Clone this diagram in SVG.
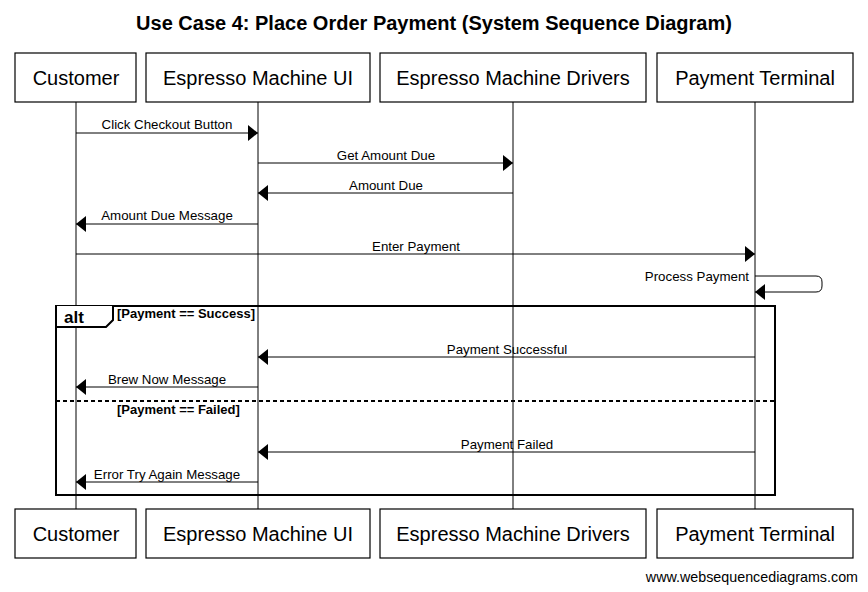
<svg xmlns="http://www.w3.org/2000/svg" width="868" height="592" viewBox="0 0 868 592">
<style>
.box{fill:#fff;stroke:#000;stroke-width:1.2}
.pt{font-family:"Liberation Sans",Arial,sans-serif;font-size:20px;text-anchor:middle;fill:#000}
.life{stroke:#000;stroke-width:1}
.msg{stroke:#000;stroke-width:1;fill:none}
.ml{font-family:"Liberation Sans",Arial,sans-serif;font-size:13.3px;text-anchor:middle;fill:#000}
.frame{fill:none;stroke:#000;stroke-width:2}
.guard{font-family:"Liberation Sans",Arial,sans-serif;font-size:13px;font-weight:bold;fill:#000}
</style>
<defs>
<marker id="ah" viewBox="0 0 10 16" refX="10" refY="8" markerWidth="10" markerHeight="16" markerUnits="userSpaceOnUse" orient="auto">
<path d="M0,0 L10,8 L0,16 Z" fill="#000"/>
</marker>
</defs>
<rect width="868" height="592" fill="#fff"/>
<text x="434" y="30" font-family="'Liberation Sans',Arial,sans-serif" font-size="20" font-weight="bold" text-anchor="middle">Use Case 4: Place Order Payment (System Sequence Diagram)</text>
<g id="lifelines">
<line class="life" x1="76" y1="102" x2="76" y2="509"/>
<line class="life" x1="258" y1="102" x2="258" y2="509"/>
<line class="life" x1="513" y1="102" x2="513" y2="509"/>
<line class="life" x1="755" y1="102" x2="755" y2="509"/>
</g>
<g id="customer">
<rect class="box" x="15" y="53" width="121" height="49"/>
<text class="pt" x="76" y="85">Customer</text>
<rect class="box" x="15" y="509" width="121" height="49"/>
<text class="pt" x="76" y="541">Customer</text>
</g>
<g id="ui">
<rect class="box" x="146" y="53" width="224" height="49"/>
<text class="pt" x="258" y="85">Espresso Machine UI</text>
<rect class="box" x="146" y="509" width="224" height="49"/>
<text class="pt" x="258" y="541">Espresso Machine UI</text>
</g>
<g id="drivers">
<rect class="box" x="380" y="53" width="266" height="49"/>
<text class="pt" x="513" y="85">Espresso Machine Drivers</text>
<rect class="box" x="380" y="509" width="266" height="49"/>
<text class="pt" x="513" y="541">Espresso Machine Drivers</text>
</g>
<g id="terminal">
<rect class="box" x="657" y="53" width="196" height="49"/>
<text class="pt" x="755" y="85">Payment Terminal</text>
<rect class="box" x="657" y="509" width="196" height="49"/>
<text class="pt" x="755" y="541">Payment Terminal</text>
</g>
<g id="alt-frame">
<rect class="frame" x="56" y="306" width="719" height="189"/>
<path d="M56,306 V327 H106 L113,320 V306" fill="#fff" stroke="#000" stroke-width="2"/>
<text x="64" y="323" font-family="'Liberation Sans',Arial,sans-serif" font-size="17" font-weight="bold">alt</text>
<text class="guard" x="117" y="318">[Payment == Success]</text>
<line x1="56" y1="401" x2="775" y2="401" stroke="#000" stroke-width="2" stroke-dasharray="4,3"/>
<text class="guard" x="117" y="414">[Payment == Failed]</text>
</g>
<g id="connectors">
<line class="msg" x1="76" y1="133" x2="258" y2="133" marker-end="url(#ah)"/>
<text class="ml" x="167" y="129">Click Checkout Button</text>
<line class="msg" x1="258" y1="163" x2="513" y2="163" marker-end="url(#ah)"/>
<text class="ml" x="386" y="160">Get Amount Due</text>
<line class="msg" x1="513" y1="193" x2="258" y2="193" marker-end="url(#ah)"/>
<text class="ml" x="386" y="190">Amount Due</text>
<line class="msg" x1="258" y1="224" x2="76" y2="224" marker-end="url(#ah)"/>
<text class="ml" x="167" y="220">Amount Due Message</text>
<line class="msg" x1="76" y1="254" x2="755" y2="254" marker-end="url(#ah)"/>
<text class="ml" x="416" y="251">Enter Payment</text>
<path class="msg" d="M755,276 H816 Q822,276 822,282 V286 Q822,292 816,292 H755" marker-end="url(#ah)"/>
<text class="ml" x="749" y="281" style="text-anchor:end">Process Payment</text>
<line class="msg" x1="755" y1="357" x2="258" y2="357" marker-end="url(#ah)"/>
<text class="ml" x="507" y="354">Payment Successful</text>
<line class="msg" x1="258" y1="387" x2="76" y2="387" marker-end="url(#ah)"/>
<text class="ml" x="167" y="384">Brew Now Message</text>
<line class="msg" x1="755" y1="452" x2="258" y2="452" marker-end="url(#ah)"/>
<text class="ml" x="507" y="449">Payment Failed</text>
<line class="msg" x1="258" y1="482" x2="76" y2="482" marker-end="url(#ah)"/>
<text class="ml" x="167" y="479">Error Try Again Message</text>
</g>
<text x="858" y="582" font-family="'Liberation Sans',Arial,sans-serif" font-size="14.3" text-anchor="end">www.websequencediagrams.com</text>
</svg>
